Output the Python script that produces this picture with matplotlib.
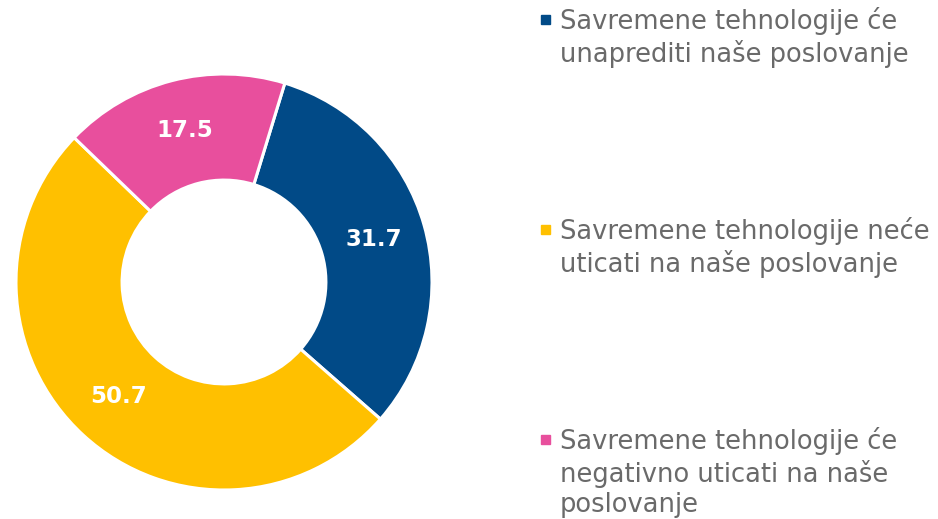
import matplotlib.pyplot as plt
import numpy as np

# udjeli odgovora (%)
labels = [
    "Savremene tehnologije će\nunaprediti naše poslovanje",
    "Savremene tehnologije neće\nuticati na naše poslovanje",
    "Savremene tehnologije će\nnegativno uticati na naše\nposlovanje",
]
values = [31.7, 50.7, 17.5]
colors = ["#014A87", "#FFC000", "#E84F9D"]

plt.rcParams['font.family'] = ['DejaVu Sans']

W, H = 938, 519
fig = plt.figure(figsize=(W / 100, H / 100), dpi=100)

# krug: centar (224, 282), poluprecnik 208 px
cx, cy, r = 224, 282, 208
ax = fig.add_axes([(cx - r) / W, (H - cy - r) / H, 2 * r / W, 2 * r / H])
wedges, texts = ax.pie(values, colors=colors, startangle=73, counterclock=False,
                       radius=1.0,
                       wedgeprops=dict(width=0.51, edgecolor='white', linewidth=2.2))
ax.set_aspect('equal')
ax.set_xlim(-1, 1)
ax.set_ylim(-1, 1)
ax.axis('off')

for w, v in zip(wedges, values):
    mid = np.deg2rad((w.theta1 + w.theta2) / 2)
    ax.text(0.75 * np.cos(mid), 0.75 * np.sin(mid), f"{v:.1f}", color='white',
            fontsize=16.5, fontweight='bold', ha='center', va='center')

# legenda
leg_y = [7, 217, 427]
for lab, col, y in zip(labels, colors, leg_y):
    fig.patches.append(plt.Rectangle((541 / W, (H - y - 9 - 8) / H), 9 / W, 9 / H,
                                     transform=fig.transFigure, color=col))
    fig.text(560 / W, (H - y) / H, lab, ha='left', va='top', fontsize=18.5,
             color='#6a6a6a', linespacing=1.22)

fig.savefig('out.png', dpi=100)
